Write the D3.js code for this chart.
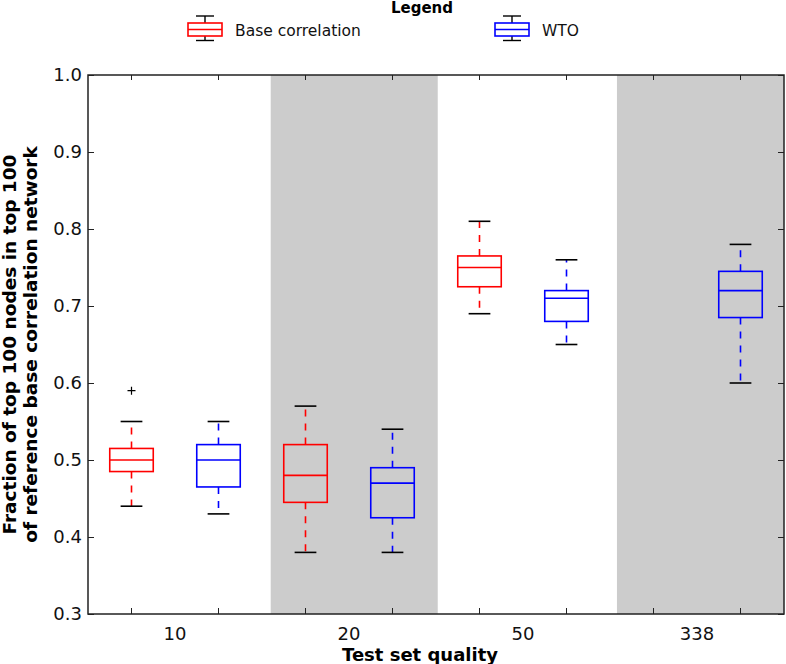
<!DOCTYPE html>
<html>
<head>
<meta charset="utf-8">
<script src="https://cdn.jsdelivr.net/npm/d3@7"></script>
<style>
  html, body { margin: 0; padding: 0; background: #fff; }
  svg { display: block; font-family: "DejaVu Sans", sans-serif; }
</style>
</head>
<body>
<svg id="chart" width="786" height="664"></svg>
<script>
// ---- Data ----
const groups = ["10", "20", "50", "338"];
const seriesNames = ["Base correlation", "WTO"];
const seriesColors = ["#ff0000", "#0000ff"];

const baseLow  = [0.44, 0.38, 0.69, null];
const baseQ1   = [0.485, 0.445, 0.725, null];
const baseMed  = [0.50, 0.48, 0.75, null];
const baseQ3   = [0.515, 0.52, 0.765, null];
const baseHigh = [0.55, 0.57, 0.81, null];
const baseOutliers = [[0.59], [], [], []];

const wtoLow  = [0.43, 0.38, 0.65, 0.60];
const wtoQ1   = [0.465, 0.425, 0.68, 0.685];
const wtoMed  = [0.50, 0.47, 0.71, 0.72];
const wtoQ3   = [0.52, 0.49, 0.72, 0.745];
const wtoHigh = [0.55, 0.54, 0.76, 0.78];
const wtoOutliers = [[], [], [], []];

const yTicks = [0.3, 0.4, 0.5, 0.6, 0.7, 0.8, 0.9, 1.0];
const shadeStart = [2.1, 6.08];   // in slot units
const shadeEnd   = [4.02, 8.0];

// ---- Build box table ----
const seriesData = [
  {low: baseLow, q1: baseQ1, med: baseMed, q3: baseQ3, high: baseHigh, out: baseOutliers},
  {low: wtoLow, q1: wtoQ1, med: wtoMed, q3: wtoQ3, high: wtoHigh, out: wtoOutliers}
];
const slots = [];
groups.forEach((g, gi) => {
  seriesNames.forEach((s, si) => {
    const d = seriesData[si];
    slots.push({key: g + "|" + s, group: g, si, low: d.low[gi], q1: d.q1[gi], med: d.med[gi],
                q3: d.q3[gi], high: d.high[gi], out: d.out[gi]});
  });
});

// ---- Layout ----
const L = 88, R = 784, T = 75, B = 614;
const svg = d3.select("#chart");

const x = d3.scaleBand().domain(slots.map(d => d.key)).range([L, R]).paddingInner(0).paddingOuter(0);
const xSlot = d3.scaleLinear().domain([0, slots.length]).range([L, R]);
const y = d3.scaleLinear().domain([0.3, 1.0]).range([B, T]);

// shading
svg.append("g").selectAll("rect").data(shadeStart).join("rect")
  .attr("x", (d) => xSlot(d))
  .attr("width", (d, i) => xSlot(shadeEnd[i]) - xSlot(d))
  .attr("y", T).attr("height", B - T)
  .attr("fill", "#cccccc");

// axes
const tickLen = 6;
const axisColor = "#222";
const yLeft = svg.append("g").attr("transform", `translate(${L},0)`)
  .call(d3.axisLeft(y).tickValues(yTicks).tickFormat(d3.format(".1f")).tickSizeInner(-tickLen).tickSizeOuter(0).tickPadding(6));
const yRight = svg.append("g").attr("transform", `translate(${R},0)`)
  .call(d3.axisRight(y).tickValues(yTicks).tickFormat("").tickSizeInner(-tickLen).tickSizeOuter(0));
const xBottom = svg.append("g").attr("transform", `translate(0,${B})`)
  .call(d3.axisBottom(x).tickFormat("").tickSizeInner(-tickLen).tickSizeOuter(0));
const xTop = svg.append("g").attr("transform", `translate(0,${T})`)
  .call(d3.axisTop(x).tickFormat("").tickSizeInner(-5).tickSizeOuter(0));
[yLeft, yRight, xBottom, xTop].forEach(g => {
  g.select(".domain").remove();
  g.selectAll("line").attr("stroke", axisColor).attr("stroke-width", 1);
});
yLeft.selectAll("text").attr("font-size", 18).attr("fill", "#111").attr("font-family", "DejaVu Sans");

// frame
svg.append("rect").attr("x", L).attr("y", T).attr("width", R - L).attr("height", B - T)
  .attr("fill", "none").attr("stroke", axisColor).attr("stroke-width", 1.5);

// group labels
const groupCenter = g => (x(g + "|" + seriesNames[0]) + x(g + "|" + seriesNames[1]) + x.bandwidth()) / 2;
svg.append("g").selectAll("text").data(groups).join("text")
  .attr("x", d => groupCenter(d)).attr("y", 640)
  .attr("text-anchor", "middle").attr("font-size", 18).attr("fill", "#111")
  .text(d => d);

// boxes
const bw = x.bandwidth() * 0.5;
const cw = x.bandwidth() * 0.25;
const boxes = svg.append("g").selectAll("g").data(slots.filter(d => d.med != null)).join("g")
  .attr("transform", d => `translate(${x(d.key) + x.bandwidth() / 2},0)`);

boxes.append("line").attr("x1", 0).attr("x2", 0)
  .attr("y1", d => y(d.q3)).attr("y2", d => y(d.high))
  .attr("stroke", d => seriesColors[d.si]).attr("stroke-width", 1.6).attr("stroke-dasharray", "7,7");
boxes.append("line").attr("x1", 0).attr("x2", 0)
  .attr("y1", d => y(d.q1)).attr("y2", d => y(d.low))
  .attr("stroke", d => seriesColors[d.si]).attr("stroke-width", 1.6).attr("stroke-dasharray", "7,7");
boxes.append("line").attr("x1", -cw / 2).attr("x2", cw / 2)
  .attr("y1", d => y(d.high)).attr("y2", d => y(d.high))
  .attr("stroke", "#000").attr("stroke-width", 1.6);
boxes.append("line").attr("x1", -cw / 2).attr("x2", cw / 2)
  .attr("y1", d => y(d.low)).attr("y2", d => y(d.low))
  .attr("stroke", "#000").attr("stroke-width", 1.6);
boxes.append("rect").attr("x", -bw / 2).attr("width", bw)
  .attr("y", d => y(d.q3)).attr("height", d => y(d.q1) - y(d.q3))
  .attr("fill", "none").attr("stroke", d => seriesColors[d.si]).attr("stroke-width", 1.6);
boxes.append("line").attr("x1", -bw / 2).attr("x2", bw / 2)
  .attr("y1", d => y(d.med)).attr("y2", d => y(d.med))
  .attr("stroke", d => seriesColors[d.si]).attr("stroke-width", 1.6);
boxes.selectAll("path.out").data(d => d.out).join("path").attr("class", "out")
  .attr("d", v => `M-4,${y(v)}h8M0,${y(v) - 4}v8`)
  .attr("stroke", "#000").attr("stroke-width", 1.2).attr("fill", "none");

// axis titles
svg.append("text").attr("x", 420).attr("y", 661).attr("text-anchor", "middle")
  .attr("font-size", 18).attr("font-weight", "bold").attr("fill", "#000").text("Test set quality");
const yl = svg.append("text").attr("transform", `translate(0,${(T + B) / 2}) rotate(-90)`)
  .attr("text-anchor", "middle").attr("font-size", 18.5).attr("font-weight", "bold").attr("fill", "#000");
yl.append("tspan").attr("x", 0).attr("y", 16).text("Fraction of top 100 nodes in top 100");
yl.append("tspan").attr("x", 0).attr("y", 37).text("of reference base correlation network");

// legend
svg.append("text").attr("x", 422).attr("y", 13).attr("text-anchor", "middle")
  .attr("font-size", 15).attr("font-weight", "bold").attr("fill", "#000").text("Legend");
const legX = [205, 512];
const leg = svg.append("g").selectAll("g").data(seriesNames).join("g")
  .attr("transform", (d, i) => `translate(${legX[i]},29.5)`);
leg.append("line").attr("x1", 0).attr("x2", 0).attr("y1", -13.5).attr("y2", 11)
  .attr("stroke", "#000").attr("stroke-width", 1.4);
leg.append("line").attr("x1", -9).attr("x2", 9).attr("y1", -13.5).attr("y2", -13.5)
  .attr("stroke", "#000").attr("stroke-width", 1.4);
leg.append("line").attr("x1", -9).attr("x2", 9).attr("y1", 11).attr("y2", 11)
  .attr("stroke", "#000").attr("stroke-width", 1.4);
leg.append("rect").attr("x", -17).attr("y", -6.5).attr("width", 34).attr("height", 13)
  .attr("fill", "#fff").attr("stroke", (d, i) => seriesColors[i]).attr("stroke-width", 1.6);
leg.append("line").attr("x1", -17).attr("x2", 17).attr("y1", 0).attr("y2", 0)
  .attr("stroke", (d, i) => seriesColors[i]).attr("stroke-width", 1.6);
leg.append("text").attr("x", 30).attr("y", 6).attr("font-size", 15.5).attr("fill", "#111").text(d => d);
</script>
</body>
</html>
